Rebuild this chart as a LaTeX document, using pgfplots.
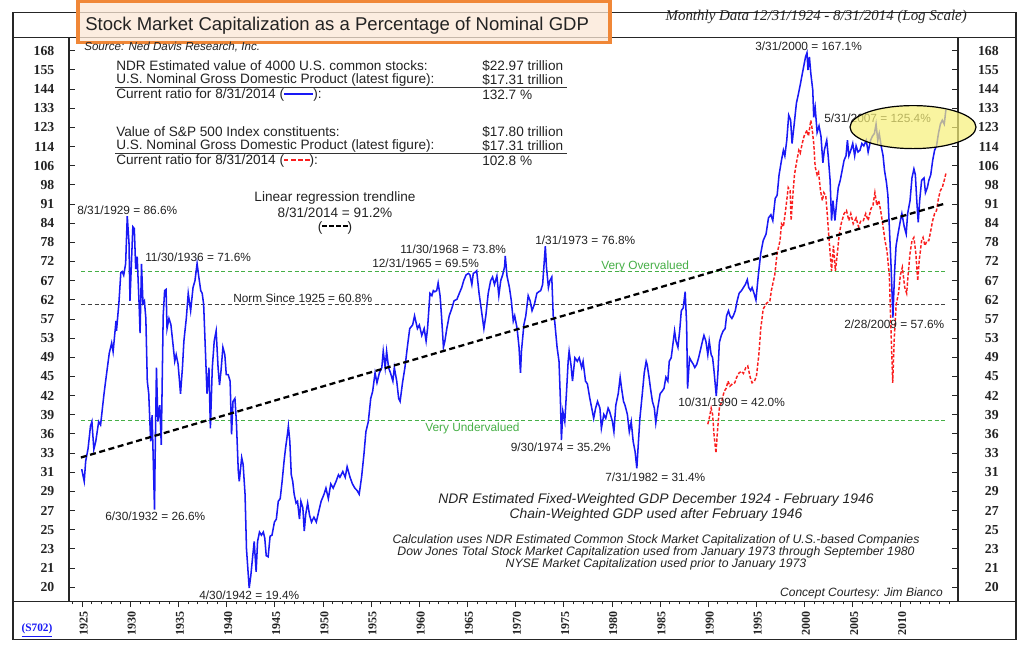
\documentclass[border=0pt]{standalone}
\usepackage{pgfplots}
\pgfplotsset{compat=1.18}
\usepackage{fontspec}
\setmainfont{Liberation Sans}
\newfontfamily\serif{Liberation Serif}
\newcommand\FS[1]{\fontsize{#1}{#1}\selectfont}
\definecolor{ndrblue}{RGB}{25,25,245}
\definecolor{ndrred}{RGB}{250,30,30}
\definecolor{ndrgreen}{RGB}{70,175,70}
\definecolor{ttlorange}{RGB}{240,135,55}
\definecolor{ttlfill}{RGB}{252,232,214}
\definecolor{ellfill}{RGB}{247,240,120}
\definecolor{txt}{RGB}{35,35,35}
\newcommand\dashsample[3]{{\color{#1}\rule[0.3em]{#2}{#3}\hspace{2pt}\rule[0.3em]{#2}{#3}\hspace{2pt}\rule[0.3em]{#2}{#3}\hspace{2pt}\rule[0.3em]{#2}{#3}}}

\pgfplotstableread{
x y
1924.94 31.3
1925.2 29.8
1925.35 32.3
1925.6 34.0
1925.85 37.2
1926.0 37.9
1926.2 33.9
1926.4 35.0
1926.7 37.9
1926.9 37.4
1927.25 42.3
1927.4 44.3
1927.8 49.9
1928.05 52.0
1928.2 50.2
1928.5 56.8
1928.55 54.6
1928.8 61.0
1929.0 69.0
1929.15 69.3
1929.3 68.3
1929.5 71.5
1929.67 86.6
1929.85 77.8
1929.95 61.6
1930.1 71.5
1930.25 83.0
1930.4 82.4
1930.55 70.0
1930.7 73.6
1930.9 60.8
1931.0 54.1
1931.15 71.5
1931.3 61.0
1931.45 61.6
1931.6 57.4
1931.75 44.6
1931.9 42.4
1932.1 35.0
1932.25 38.9
1932.5 26.6
1932.55 31.5
1932.7 47.1
1932.85 37.9
1933.05 40.5
1933.2 34.5
1933.4 58.0
1933.55 64.2
1933.7 64.5
1933.8 55.1
1934.0 57.4
1934.2 56.0
1934.4 52.1
1934.6 48.3
1934.75 49.6
1934.95 47.7
1935.2 42.4
1935.4 47.1
1935.55 52.4
1935.8 57.4
1936.0 63.5
1936.25 59.2
1936.5 65.0
1936.7 66.8
1936.92 71.6
1937.1 67.8
1937.3 64.2
1937.45 63.5
1937.6 60.8
1937.8 49.6
1937.95 42.4
1938.15 47.1
1938.3 36.9
1938.5 47.1
1938.7 52.4
1938.9 54.6
1939.1 47.1
1939.25 43.9
1939.4 46.4
1939.6 51.1
1939.8 49.6
1939.95 45.8
1940.15 45.8
1940.35 44.6
1940.5 36.0
1940.65 41.1
1940.85 41.6
1941.0 37.9
1941.2 31.0
1941.3 29.8
1941.55 32.8
1941.7 31.9
1941.9 28.3
1942.05 22.7
1942.33 19.4
1942.5 20.4
1942.7 22.1
1942.85 23.4
1943.05 20.7
1943.2 23.4
1943.4 24.3
1943.6 24.0
1943.8 24.3
1943.95 23.7
1944.1 22.1
1944.3 22.0
1944.5 23.9
1944.7 24.0
1944.95 25.3
1945.15 25.6
1945.35 27.5
1945.55 27.8
1945.75 29.8
1945.95 32.3
1946.1 34.0
1946.3 36.0
1946.4 37.2
1946.55 35.0
1946.7 30.6
1946.85 29.8
1947.0 28.3
1947.2 27.3
1947.35 27.5
1947.55 25.6
1947.7 27.5
1947.9 26.8
1948.05 24.4
1948.2 26.1
1948.4 27.3
1948.6 26.0
1948.8 25.3
1949.05 25.8
1949.3 25.3
1949.55 26.4
1949.8 27.5
1950.1 28.3
1950.3 29.0
1950.55 27.8
1950.8 29.5
1951.05 29.0
1951.35 29.8
1951.6 30.6
1951.75 30.3
1952.05 31.0
1952.3 30.3
1952.5 31.6
1952.8 30.3
1953.05 29.5
1953.3 29.0
1953.55 28.7
1953.75 28.3
1954.0 30.3
1954.25 33.3
1954.45 36.4
1954.7 37.9
1954.95 41.6
1955.15 42.8
1955.4 46.1
1955.6 44.3
1955.85 46.1
1956.1 47.1
1956.25 50.3
1956.45 47.1
1956.6 50.3
1956.8 47.1
1957.0 46.1
1957.25 44.6
1957.4 47.1
1957.65 44.6
1957.85 41.6
1958.0 41.1
1958.25 44.3
1958.5 47.1
1958.75 51.1
1959.0 55.1
1959.3 55.9
1959.5 58.0
1959.8 55.1
1960.0 55.9
1960.25 53.6
1960.5 55.1
1960.7 52.4
1960.85 55.1
1961.1 63.5
1961.3 62.9
1961.45 64.2
1961.6 63.9
1961.8 64.2
1961.95 66.2
1962.15 62.9
1962.3 58.0
1962.5 51.1
1962.65 52.4
1962.85 55.1
1963.1 58.0
1963.35 59.6
1963.6 61.6
1963.9 62.0
1964.15 63.5
1964.4 65.0
1964.6 66.8
1964.85 68.4
1965.1 68.8
1965.25 68.4
1965.45 65.8
1965.6 68.8
1965.8 69.1
1965.95 69.5
1966.2 63.5
1966.45 59.2
1966.7 55.1
1966.9 58.0
1967.15 63.5
1967.4 66.8
1967.6 67.8
1967.8 65.8
1968.05 68.1
1968.25 62.9
1968.45 66.8
1968.65 68.4
1968.85 70.7
1968.92 73.8
1969.1 68.1
1969.35 65.0
1969.55 61.6
1969.75 56.8
1969.9 58.0
1970.15 55.1
1970.35 51.1
1970.5 46.1
1970.6 50.3
1970.85 55.9
1971.05 58.0
1971.3 62.9
1971.5 61.6
1971.7 59.2
1971.95 60.8
1972.2 63.5
1972.4 63.9
1972.6 64.2
1972.8 65.8
1973.08 76.8
1973.2 70.5
1973.4 65.0
1973.55 66.8
1973.75 67.8
1973.9 58.0
1974.05 56.8
1974.3 51.1
1974.5 48.3
1974.65 41.1
1974.75 35.2
1974.9 39.5
1975.1 37.9
1975.3 43.3
1975.45 48.3
1975.55 50.3
1975.75 47.5
1975.9 44.6
1976.15 49.0
1976.4 48.3
1976.6 49.0
1976.85 47.1
1977.0 48.3
1977.25 44.6
1977.45 44.1
1977.7 41.6
1977.9 40.0
1978.1 38.4
1978.3 40.0
1978.5 41.1
1978.75 40.0
1978.9 36.9
1979.15 39.0
1979.35 38.4
1979.6 40.0
1979.75 39.5
1980.05 37.9
1980.2 36.4
1980.4 40.5
1980.65 42.4
1980.85 45.3
1981.0 43.3
1981.2 41.1
1981.35 40.5
1981.6 39.0
1981.8 36.4
1982.0 37.9
1982.2 35.0
1982.4 33.6
1982.58 31.4
1982.75 35.0
1982.9 38.4
1983.15 42.4
1983.35 46.1
1983.55 48.3
1983.65 47.7
1983.85 45.3
1984.0 43.3
1984.2 41.1
1984.4 40.0
1984.55 37.7
1984.75 40.0
1985.0 42.4
1985.2 42.8
1985.4 43.3
1985.6 45.3
1985.8 44.6
1985.95 48.3
1986.15 49.0
1986.35 52.1
1986.5 54.6
1986.65 52.4
1986.85 51.1
1987.05 55.1
1987.2 59.2
1987.4 59.9
1987.6 63.9
1987.75 56.2
1987.85 43.3
1988.05 49.0
1988.25 48.3
1988.45 47.7
1988.6 47.1
1988.8 47.7
1989.0 49.0
1989.4 52.4
1989.55 53.6
1989.75 52.4
1989.95 49.6
1990.1 52.4
1990.3 49.6
1990.45 49.0
1990.6 46.4
1990.83 42.0
1991.0 46.1
1991.15 52.1
1991.35 53.6
1991.55 54.6
1991.75 55.1
1991.9 58.0
1992.1 59.2
1992.25 58.0
1992.45 57.4
1992.6 58.0
1992.8 59.2
1993.0 61.6
1993.2 63.5
1993.45 64.2
1993.65 65.0
1993.85 65.8
1994.05 67.1
1994.2 65.0
1994.4 64.2
1994.55 65.0
1994.75 63.5
1994.95 61.8
1995.2 68.4
1995.45 74.6
1995.7 78.5
1996.0 80.6
1996.25 86.0
1996.5 87.1
1996.7 85.1
1996.95 93.0
1997.15 94.2
1997.35 102.3
1997.6 108.4
1997.8 112.9
1997.95 110.4
1998.15 117.5
1998.35 130.0
1998.55 127.4
1998.7 116.0
1998.9 124.5
1999.15 136.4
1999.35 141.4
1999.55 146.9
1999.7 151.6
1999.9 157.9
2000.1 164.4
2000.25 167.1
2000.35 155.9
2000.5 164.4
2000.65 153.6
2000.85 143.8
2000.95 128.9
2001.1 134.1
2001.3 121.3
2001.5 124.5
2001.7 119.5
2001.9 107.3
2002.05 112.9
2002.3 117.5
2002.45 110.4
2002.65 100.0
2002.8 85.1
2002.95 92.2
2003.15 85.1
2003.35 92.2
2003.5 97.2
2003.7 100.0
2003.9 104.1
2004.1 108.4
2004.3 110.4
2004.45 117.5
2004.6 110.4
2004.8 112.9
2005.0 116.0
2005.2 110.4
2005.35 114.9
2005.55 112.1
2005.75 112.9
2005.95 116.0
2006.15 114.9
2006.4 117.5
2006.6 112.1
2006.85 117.5
2007.05 119.5
2007.25 120.8
2007.42 125.4
2007.6 117.5
2007.75 120.8
2007.95 114.9
2008.15 110.4
2008.3 104.1
2008.5 99.2
2008.65 94.2
2008.8 83.0
2009.0 69.5
2009.17 57.6
2009.35 69.5
2009.5 76.9
2009.7 80.6
2009.95 85.1
2010.1 87.5
2010.35 83.0
2010.55 80.6
2010.7 87.5
2010.95 92.2
2011.15 101.0
2011.35 104.7
2011.5 102.3
2011.65 92.2
2011.8 84.5
2011.95 92.2
2012.15 100.0
2012.4 101.0
2012.55 95.2
2012.75 97.2
2012.9 100.0
2013.1 102.3
2013.3 108.4
2013.5 112.9
2013.7 114.9
2013.9 120.8
2014.1 125.4
2014.3 127.4
2014.5 125.4
2014.67 132.7
}\ndrdata

\pgfplotstableread{
x y
1989.95 37.5
1990.1 38.4
1990.3 40.0
1990.45 39.0
1990.6 35.9
1990.8 33.4
1990.95 36.4
1991.15 40.0
1991.4 41.1
1991.65 42.8
1991.85 43.3
1992.05 44.6
1992.25 43.7
1992.5 44.1
1992.75 44.3
1992.95 45.3
1993.2 46.1
1993.45 46.4
1993.65 46.0
1993.9 47.1
1994.1 47.4
1994.35 45.3
1994.55 44.3
1994.8 44.6
1995.0 45.5
1995.25 49.6
1995.45 55.1
1995.7 59.6
1996.05 61.0
1996.4 61.6
1996.55 64.2
1996.9 68.4
1997.15 74.6
1997.45 78.5
1997.6 84.0
1997.8 83.0
1998.05 89.3
1998.3 97.2
1998.5 96.0
1998.6 85.1
1998.8 95.2
1998.95 102.3
1999.2 108.4
1999.4 112.9
1999.55 111.6
1999.75 116.0
1999.95 119.5
2000.25 122.4
2000.4 119.5
2000.65 127.4
2000.8 122.4
2000.95 116.0
2001.1 105.6
2001.3 102.3
2001.45 103.4
2001.65 96.0
2001.85 92.2
2002.0 95.2
2002.2 94.0
2002.35 87.5
2002.55 78.5
2002.8 69.5
2003.0 76.9
2003.2 69.5
2003.4 74.6
2003.6 80.6
2003.8 84.0
2004.1 87.5
2004.35 88.6
2004.6 85.1
2004.8 87.5
2005.05 84.0
2005.35 86.0
2005.6 83.0
2005.85 85.1
2006.1 85.1
2006.35 87.5
2006.6 85.1
2006.9 89.3
2007.1 90.5
2007.3 95.2
2007.5 90.5
2007.7 92.2
2007.9 88.6
2008.15 83.0
2008.35 78.5
2008.55 75.4
2008.8 68.4
2008.95 56.2
2009.15 44.3
2009.3 52.4
2009.5 60.6
2009.75 63.5
2009.95 68.4
2010.15 70.5
2010.4 65.0
2010.6 63.5
2010.75 68.4
2010.95 74.6
2011.15 78.5
2011.35 79.5
2011.55 74.6
2011.75 66.8
2011.9 72.4
2012.15 78.5
2012.3 79.5
2012.5 76.9
2012.7 78.5
2012.9 78.5
2013.1 81.7
2013.3 85.1
2013.5 87.5
2013.7 88.6
2013.9 93.0
2014.1 96.0
2014.3 97.2
2014.5 100.0
2014.67 102.8
}\spxdata

\begin{document}
\begin{tikzpicture}
\begin{scope}[x=0.75pt,y=-0.75pt]
\useasboundingbox (0,0) rectangle (1024,649);
\fill[white] (0,0) rectangle (1024,649);
\draw[line width=0.8pt, black!85] (13,12) rectangle (1016,639);
\draw[line width=0.8pt, black!85] (13,37) -- (1016,37);
\draw[line width=0.8pt, black!85] (13,601) -- (1016,601);
\end{scope}

\begin{axis}[
  at={(51.75pt,-450.75pt)}, anchor=south west, scale only axis,
  width=666.75pt, height=423pt,
  xmin=1923.62, xmax=2015.93, ymode=log, ymin=18.41, ymax=178.0,
  ytick={19.47,21.03,22.71,24.53,26.50,28.62,30.92,33.39,36.07,38.96,42.08,45.45,49.09,53.02,57.27,61.87,66.82,72.18,77.96,84.20,90.95,98.24,106.11,114.61,123.79,133.71,144.43,156.00,168.49},
  yticklabels={20,21,23,25,27,29,31,33,36,39,42,45,49,53,57,62,67,72,78,84,91,98,106,114,123,133,144,155,168},
  minor ytick={},
  axis line style={line width=0.8pt, black!85},
  xtick={1925,1930,...,2010},
  xticklabels={1925,1930,1935,1940,1945,1950,1955,1960,1965,1970,1975,1980,1985,1990,1995,2000,2005,2010},
  minor xtick={1924,1925,...,2015},
  xtick pos=bottom, xtick align=outside,
  ytick pos=both, ytick align=inside, yticklabel pos=left,
  major tick length=4.5pt, minor tick length=2.5pt,
  tick style={black!85, line width=0.7pt},
  xticklabel style={rotate=90, anchor=east, font=\serif\bfseries\FS{9}, text=txt, yshift=-1pt},
  yticklabel style={font=\serif\bfseries\FS{10.3}, text=txt, xshift=-7.5pt},
]
\addplot[ndrgreen, line width=0.8pt, dash pattern=on 3pt off 2pt] coordinates {(1924.9,69.2) (2014.67,69.2)};
\addplot[black!75, line width=0.8pt, dash pattern=on 3pt off 2pt] coordinates {(1924.9,60.8) (2014.67,60.8)};
\addplot[ndrgreen, line width=0.8pt, dash pattern=on 3pt off 2pt] coordinates {(1924.9,38.0) (2014.67,38.0)};
\addplot[ndrred, line width=1.1pt, dash pattern=on 2.5pt off 1.4pt] table[x=x,y=y] {\spxdata};
\addplot[ndrblue, line width=1.15pt] table[x=x,y=y] {\ndrdata};
\addplot[black, line width=1.7pt, dash pattern=on 4.5pt off 2.7pt] coordinates {(1924.85,32.8) (2014.67,91.2)};
\end{axis}

\begin{axis}[
  at={(51.75pt,-450.75pt)}, anchor=south west, scale only axis,
  width=666.75pt, height=423pt,
  xmin=1923.62, xmax=2015.93, ymode=log, ymin=18.41, ymax=178.0,
  ytick={19.47,21.03,22.71,24.53,26.50,28.62,30.92,33.39,36.07,38.96,42.08,45.45,49.09,53.02,57.27,61.87,66.82,72.18,77.96,84.20,90.95,98.24,106.11,114.61,123.79,133.71,144.43,156.00,168.49},
  yticklabels={20,21,23,25,27,29,31,33,36,39,42,45,49,53,57,62,67,72,78,84,91,98,106,114,123,133,144,155,168},
  minor ytick={},
  hide x axis, axis y line*=right, y axis line style={draw=none},
  major tick length=0pt,
  yticklabel style={font=\serif\bfseries\FS{10.3}, text=txt, anchor=east, xshift=34pt},
]
\end{axis}

\begin{scope}[x=0.75pt,y=-0.75pt, every node/.style={inner sep=0pt, text=txt}]
% header
\fill[ttlfill, fill opacity=0.75] (78,1.5) rectangle (610,42);
\draw[ttlorange, line width=2.4pt] (78,1.5) rectangle (610,42);
\node[anchor=west] at (85,26) {\FS{13.9}Stock Market Capitalization as a Percentage of Nominal GDP};
\node[anchor=east] at (967,17) {\serif\itshape\FS{11.2}Monthly Data 12/31/1924 - 8/31/2014 (Log Scale)};
\node[anchor=west] at (84,47) {\itshape\FS{8.7}Source: Ned Davis Research, Inc.};
% info block
\node[anchor=west] at (116,65.5) {\FS{10.2}NDR Estimated value of 4000 U.S. common stocks:};
\node[anchor=west] at (482,65.5) {\FS{10.2}\$22.97 trillion};
\node[anchor=west] at (116,80) {\FS{10.2}U.S. Nominal Gross Domestic Product (latest figure):};
\node[anchor=west] at (482,80) {\FS{10.2}\$17.31 trillion};
\draw[black!80, line width=0.8pt] (115,87.3) -- (567,87.3);
\node[anchor=west] at (116,95) {\FS{10.2}Current ratio for 8/31/2014 ({\color{ndrblue}\rule[0.3em]{22pt}{0.9pt}}):};
\node[anchor=west] at (482,95) {\FS{10.2}132.7 \%};
\node[anchor=west] at (116,131.5) {\FS{10.2}Value of S\&P 500 Index constituents:};
\node[anchor=west] at (482,131.5) {\FS{10.2}\$17.80 trillion};
\node[anchor=west] at (116,146) {\FS{10.2}U.S. Nominal Gross Domestic Product (latest figure):};
\node[anchor=west] at (482,146) {\FS{10.2}\$17.31 trillion};
\draw[black!80, line width=0.8pt] (115,153.3) -- (567,153.3);
\node[anchor=west] at (116,161) {\FS{10.2}Current ratio for 8/31/2014 (\dashsample{ndrred}{3.3pt}{0.9pt}):};
\node[anchor=west] at (482,161) {\FS{10.2}102.8 \%};
% trendline label
\node[anchor=center] at (335,198) {\FS{10.2}Linear regression trendline};
\node[anchor=center] at (335,212.5) {\FS{10.2}8/31/2014 = 91.2\%};
\node[anchor=center] at (335,227.5) {\FS{10.2}(\dashsample{black}{3.2pt}{1.4pt})};
% point labels
\node[anchor=west] at (77,210) {\FS{8.9}8/31/1929 = 86.6\%};
\node[anchor=west] at (145,257) {\FS{8.9}11/30/1936 = 71.6\%};
\node[anchor=west] at (233,298) {\FS{8.9}Norm Since 1925 = 60.8\%};
\node[anchor=west] at (105,516) {\FS{8.9}6/30/1932 = 26.6\%};
\node[anchor=west] at (199,595) {\FS{8.9}4/30/1942 = 19.4\%};
\node[anchor=west] at (400,249.5) {\FS{8.9}11/30/1968 = 73.8\%};
\node[anchor=west] at (372,263.5) {\FS{8.9}12/31/1965 = 69.5\%};
\node[anchor=west] at (535,240) {\FS{8.9}1/31/1973 = 76.8\%};
\node[anchor=west, text=ndrgreen] at (601,266) {\FS{8.9}Very Overvalued};
\node[anchor=west, text=ndrgreen] at (425,428) {\FS{8.9}Very Undervalued};
\node[anchor=east] at (611,447) {\FS{8.9}9/30/1974 = 35.2\%};
\node[anchor=west] at (605,477) {\FS{8.9}7/31/1982 = 31.4\%};
\node[anchor=west] at (678,402) {\FS{8.9}10/31/1990 = 42.0\%};
\node[anchor=west] at (755,46) {\FS{8.9}3/31/2000 = 167.1\%};
\node[anchor=west] at (824,118) {\FS{8.9}5/31/2007 = 125.4\%};
\node[anchor=west] at (844,324) {\FS{8.9}2/28/2009 = 57.6\%};
% notes
\node[anchor=center] at (656,500) {\itshape\FS{10.4}NDR Estimated Fixed-Weighted GDP December 1924 - February 1946};
\node[anchor=center] at (656,514.5) {\itshape\FS{10.4}Chain-Weighted GDP used after February 1946};
\node[anchor=center] at (656,540.5) {\itshape\FS{9.2}Calculation uses NDR Estimated Common Stock Market Capitalization of U.S.-based Companies};
\node[anchor=center] at (656,552.5) {\itshape\FS{9.2}Dow Jones Total Stock Market Capitalization used from January 1973 through September 1980};
\node[anchor=center] at (656,564.5) {\itshape\FS{9.2}NYSE Market Capitalization used prior to January 1973};
\node[anchor=east] at (943,593) {\itshape\FS{9}Concept Courtesy: Jim Bianco};
\node[anchor=center, text=ndrblue] at (37,630) {\serif\bfseries\FS{8.5}\underline{(S702)}};
% highlight
\fill[ellfill, fill opacity=0.7] (913,127) ellipse [x radius=63, y radius=21.5];
\draw[black, line width=0.9pt] (913,127) ellipse [x radius=63, y radius=21.5];
\end{scope}
\end{tikzpicture}
\end{document}
